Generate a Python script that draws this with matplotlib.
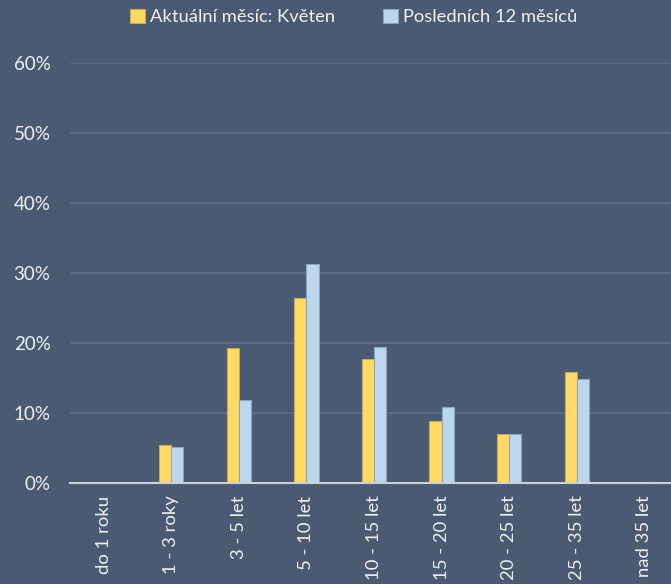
import matplotlib.pyplot as plt
import numpy as np

plt.rcParams['font.family'] = ['Lato', 'DejaVu Sans']

kategorie = ['do 1 roku', '1 - 3 roky', '3 - 5 let', '5 - 10 let', '10 - 15 let',
             '15 - 20 let', '20 - 25 let', '25 - 35 let', 'nad 35 let']
aktualni = [0.0, 5.4, 19.3, 26.4, 17.7, 8.9, 7.0, 15.9, 0.0]
posledni_12 = [0.0, 5.1, 11.8, 31.3, 19.5, 10.8, 7.0, 14.8, 0.1]

pozadi = '#4a5a72'
zluta = '#ffd966'
modra = '#bdd7ee'
text_barva = '#f0f0f0'

fig = plt.figure(figsize=(6.71, 5.84), dpi=100, facecolor=pozadi)
ax = fig.add_axes([70 / 671, 1 - 483 / 584, 608 / 671, 420 / 584], facecolor=pozadi)

x = np.arange(len(kategorie))
sirka = 0.18
ax.bar(x - sirka / 2, aktualni, sirka, color=zluta, edgecolor='#c8aa55', linewidth=0.8,
       label='Aktuální měsíc: Květen', zorder=3)
ax.bar(x + sirka / 2, posledni_12, sirka, color=modra, edgecolor='#8ea5bd', linewidth=0.8,
       label='Posledních 12 měsíců', zorder=3)

ax.set_xlim(-0.5, len(kategorie) - 0.5)
ax.set_ylim(0, 60)
ax.set_yticks(range(0, 61, 10))
ax.set_yticklabels([f'{v}%' for v in range(0, 61, 10)], color=text_barva, fontsize=13.5)
ax.set_xticks(x)
ax.set_xticklabels(kategorie, rotation=90, color=text_barva, fontsize=13.3, va='top')
ax.tick_params(axis='both', length=0)
ax.tick_params(axis='y', pad=14)
ax.tick_params(axis='x', pad=9)

ax.grid(axis='y', color='#5b6e89', linewidth=1.2, zorder=0)
for s in ['top', 'right', 'left']:
    ax.spines[s].set_visible(False)
ax.spines['bottom'].set_color('#d0d0d0')
ax.spines['bottom'].set_linewidth(1.5)
ax.spines['bottom'].set_zorder(4)

leg = fig.legend(loc='center', bbox_to_anchor=(0.527, 1 - 17 / 584), ncol=2, frameon=False,
                 fontsize=13.2, handlelength=0.8, handleheight=0.8, handletextpad=0.3,
                 columnspacing=2.6)
for t in leg.get_texts():
    t.set_color(text_barva)

fig.savefig('out.png', dpi=100, facecolor=pozadi)
